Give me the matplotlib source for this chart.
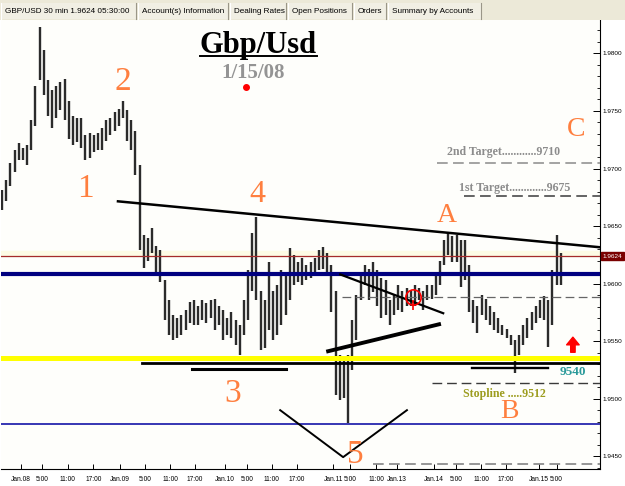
import matplotlib
matplotlib.use('Agg')
import matplotlib.pyplot as plt
from matplotlib.patches import Rectangle
from matplotlib.lines import Line2D
import matplotlib.transforms as mtransforms

# hourly bars, GBP/USD 7-15 Jan 2008
highs = [1.9681, 1.9690, 1.9705, 1.9716, 1.9722, 1.9718, 1.9720, 1.9742, 1.9772, 1.9823,
         1.9803, 1.9777, 1.9768, 1.9772, 1.9775, 1.9778, 1.9759, 1.9746, 1.9744, 1.9744,
         1.9729, 1.9731, 1.9729, 1.9731, 1.9735, 1.9742, 1.9744, 1.9749, 1.9752, 1.9759,
         1.9751, 1.9742, 1.9733, 1.9703, 1.9642, 1.9640, 1.9648, 1.9633, 1.9629, 1.9603,
         1.9586, 1.9573, 1.9570, 1.9573, 1.9577, 1.9584, 1.9586, 1.9581, 1.9586, 1.9583,
         1.9586, 1.9587, 1.9581, 1.9577, 1.9570, 1.9575, 1.9568, 1.9564, 1.9586, 1.9612,
         1.9644, 1.9658, 1.9594, 1.9586, 1.9619, 1.9594, 1.9599, 1.9612, 1.9607, 1.9631,
         1.9625, 1.9619, 1.9622, 1.9616, 1.9619, 1.9622, 1.9629, 1.9632, 1.9627, 1.9616,
         1.9594, 1.9538, 1.9534, 1.9538, 1.9568, 1.9590, 1.9610, 1.9616, 1.9613, 1.9619,
         1.9612, 1.9605, 1.9603, 1.9586, 1.9590, 1.9599, 1.9594, 1.9596, 1.9594, 1.9599,
         1.9596, 1.9594, 1.9599, 1.9599, 1.9607, 1.9620, 1.9638, 1.9644, 1.9641, 1.9642,
         1.9638, 1.9638, 1.9616, 1.9586, 1.9581, 1.9590, 1.9587, 1.9581, 1.9575, 1.9570,
         1.9564, 1.9561, 1.9555, 1.9551, 1.9555, 1.9564, 1.9570, 1.9575, 1.9581, 1.9586,
         1.9589, 1.9586, 1.9612, 1.9642, 1.9627]
lows = [1.9664, 1.9672, 1.9685, 1.9697, 1.9707, 1.9707, 1.9703, 1.9716, 1.9737, 1.9777,
        1.9764, 1.9746, 1.9735, 1.9744, 1.9751, 1.9742, 1.9726, 1.9720, 1.9723, 1.9718,
        1.9707, 1.9709, 1.9714, 1.9716, 1.9716, 1.9724, 1.9729, 1.9733, 1.9737, 1.9744,
        1.9724, 1.9716, 1.9694, 1.9629, 1.9614, 1.9620, 1.9627, 1.9607, 1.9601, 1.9568,
        1.9555, 1.9551, 1.9553, 1.9555, 1.9560, 1.9566, 1.9564, 1.9564, 1.9568, 1.9566,
        1.9570, 1.9560, 1.9564, 1.9551, 1.9555, 1.9553, 1.9547, 1.9538, 1.9555, 1.9568,
        1.9594, 1.9586, 1.9542, 1.9544, 1.9560, 1.9551, 1.9555, 1.9564, 1.9573, 1.9586,
        1.9599, 1.9601, 1.9599, 1.9603, 1.9605, 1.9607, 1.9612, 1.9613, 1.9607, 1.9575,
        1.9503, 1.9499, 1.9501, 1.9479, 1.9525, 1.9551, 1.9586, 1.9599, 1.9586, 1.9593,
        1.9581, 1.9570, 1.9573, 1.9564, 1.9573, 1.9577, 1.9575, 1.9581, 1.9581, 1.9581,
        1.9586, 1.9577, 1.9586, 1.9587, 1.9590, 1.9599, 1.9616, 1.9625, 1.9619, 1.9619,
        1.9597, 1.9603, 1.9575, 1.9566, 1.9557, 1.9573, 1.9568, 1.9564, 1.9560, 1.9557,
        1.9555, 1.9553, 1.9547, 1.9522, 1.9538, 1.9547, 1.9553, 1.9560, 1.9566, 1.9570,
        1.9568, 1.9545, 1.9564, 1.9599, 1.9599]
bars = list(range(len(highs)))

tick_pos = [4.5, 9.5, 15.8, 21.9, 28.3, 34.3, 40.3, 46.3, 53.5, 58.7, 64.7, 70.7,
            79.4, 83.4, 89.7, 94.7, 103.6, 108.9, 114.9, 120.9, 128.8, 133.0]
tick_labels = ['Jan.08', '5:00', '11:00', '17:00', 'Jan.09', '5:00', '11:00', '17:00',
               'Jan.10', '5:00', '11:00', '17:00', 'Jan.11', '5:00', '11:00', 'Jan.13',
               'Jan.14', '5:00', '11:00', '17:00', 'Jan.15', '5:00']

last_price = 1.9624
blue_level = 1.9608
yellow_level = 1.9535
support_level = 1.9531
low_blue_level = 1.9478

# drawn trend lines (bar index, price)
resist_x, resist_y = [27.8, 143.4], [1.96715, 1.96316]
tri_down_x, tri_down_y = [81.1, 105.8], [1.9608, 1.95743]
tri_up_x, tri_up_y = [78.2, 104.8], [1.95413, 1.95647]
v_x, v_y = [66.7, 81.8, 97.1], [1.94901, 1.94493, 1.94901]
base3_x, base3_y = [45.6, 68.1], [1.9526, 1.9526]
baseB_x, baseB_y = [112.7, 130.9], [1.9527, 1.9527]

target2, target1, mid_dash, stopline, bottom_dash = 1.9705, 1.9676, 1.9588, 1.95135, 1.9443

fig = plt.figure(figsize=(6.25, 4.86), dpi=100)
fig.patch.set_facecolor('white')
ax = fig.add_axes([1 / 625, 17 / 486, 599 / 625, 449 / 486])
ax.set_facecolor('#FEFEFB')
ax.set_xlim(-0.25, 143.4)
ax.set_ylim(1.9439, 1.9829)

# horizontal levels
ax.axhspan(last_price, 1.9628, color='#FDFBE4', zorder=0)
ax.axhline(last_price, color='#A52A2A', lw=0.9, zorder=3)
ax.axhline(blue_level, color='#000080', lw=3.0, zorder=3)
ax.axhline(yellow_level, color='#FFFF00', lw=3.6, zorder=3)
ax.axhline(support_level, xmin=(33.6 + 0.25) / 143.65, color='black', lw=2.0, zorder=3)
ax.axhline(low_blue_level, color='#0000A0', lw=1.1, zorder=3)

# price bars
ax.vlines(bars, lows, highs, color='#2b2b2b', lw=1.7, zorder=2)

dash = (0, (7, 3.5))
ax.plot([104.3, 143.4], [target2] * 2, color='#8a8a8a', lw=1.1, ls=dash, zorder=3)
ax.plot([110.8, 143.4], [target1] * 2, color='#3a3a3a', lw=1.1, ls=dash, zorder=3)
ax.plot([81.5, 143.4], [mid_dash] * 2, color='#666666', lw=0.9, ls=dash, zorder=3)
ax.plot([103.1, 143.4], [stopline] * 2, color='#3a3a3a', lw=1.0, ls=dash, zorder=3)
ax.plot([89.0, 143.4], [bottom_dash] * 2, color='#7a7a7a', lw=1.1, ls=dash, zorder=3)

# trend lines
ax.plot(resist_x, resist_y, color='black', lw=1.8, zorder=4)
ax.plot(tri_down_x, tri_down_y, color='black', lw=1.6, zorder=4)
ax.plot(tri_up_x, tri_up_y, color='black', lw=2.8, zorder=4)
ax.plot(v_x, v_y, color='black', lw=1.4, zorder=4)
ax.plot(base3_x, base3_y, color='black', lw=2.2, zorder=4)
ax.plot(baseB_x, baseB_y, color='black', lw=1.7, zorder=4)

# red marks
ax.plot([98.6], [mid_dash], 'o', mfc='none', mec='red', ms=11, mew=1.2, zorder=5)
ax.vlines([98.6], 1.9577, 1.9586, color='red', lw=1.2, zorder=5)
ax.plot([58.5], [1.97705], 'o', color='red', ms=4, zorder=5)
ax.annotate('', xy=(136.9, 1.95535), xytext=(136.9, 1.95404),
            arrowprops=dict(arrowstyle='simple,head_width=0.9,head_length=0.55,tail_width=0.32',
                            color='red', shrinkA=0, shrinkB=0, mutation_scale=10), zorder=5)

# titles
serif = 'Liberation Serif'
title = ax.text(61.4, 1.9800, 'Gbp/Usd', family=serif, weight='bold', fontsize=22,
                ha='center', va='baseline', color='black', zorder=6)
ax.text(60.2, 1.97783, '1/15/08', family=serif, weight='bold', fontsize=15,
        ha='center', va='baseline', color='#949494', zorder=6)

orange = '#FF7F3F'
for lab, x, y, fs in [('1', 19.9, 1.9675, 24), ('2', 29.0, 1.97679, 24), ('3', 55.2, 1.9497, 24),
                      ('4', 61.2, 1.96707, 23), ('5', 84.7, 1.94441, 24), ('A', 106.7, 1.96533, 20),
                      ('B', 121.8, 1.94832, 20), ('C', 137.6, 1.9728, 20)]:
    ax.text(x, y, lab, family=serif, fontsize=fs, color=orange, ha='center', va='baseline', zorder=6)

ax.text(106.7, 1.97115, '2nd Target............9710', family=serif, weight='bold', fontsize=8.6,
        color='#8c8c8c', ha='left', va='baseline', zorder=6)
ax.text(109.6, 1.96802, '1st Target.............9675', family=serif, weight='bold', fontsize=8.6,
        color='#8c8c8c', ha='left', va='baseline', zorder=6)
ax.text(136.9, 1.95205, '9540', family=serif, weight='bold', fontsize=9.5,
        color='#2A9A9A', ha='center', va='baseline', zorder=6)
ax.text(110.6, 1.95014, 'Stopline .....9512', family=serif, weight='bold', fontsize=8.6,
        color='#9C9C1E', ha='left', va='baseline', zorder=6)

# axes styling
for s in ['left', 'top']:
    ax.spines[s].set_visible(False)
ax.spines['right'].set_linewidth(0.8)
ax.spines['bottom'].set_linewidth(0.8)
ax.yaxis.tick_right()
ax.set_yticks([1.9450, 1.9500, 1.9550, 1.9600, 1.9650, 1.9700, 1.9750, 1.9800])
ax.set_yticks([1.944 + 0.001 * i for i in range(39)], minor=True)
ax.set_yticklabels(['%.4f' % v for v in ax.get_yticks()], family='Liberation Sans', fontsize=4.6)
ax.tick_params(axis='y', which='major', direction='in', length=5, width=0.7, pad=2)
ax.tick_params(axis='y', which='minor', direction='in', length=2.5, width=0.6)
ax.set_xticks(tick_pos)
ax.set_xticklabels(tick_labels, family='Liberation Sans', fontsize=4.8)
ax.tick_params(axis='x', direction='in', length=3.5, width=0.7, pad=5)

trans = mtransforms.blended_transform_factory(ax.transAxes, ax.transData)
ax.text(1.004, last_price, '1.9624', transform=trans, fontsize=4.6, family='Liberation Sans',
        color='white', va='center', ha='left',
        bbox=dict(boxstyle='square,pad=0.25', facecolor='#7A0000', edgecolor='#7A0000'))

# underline under the title
fig.canvas.draw()
bb = title.get_window_extent()
inv = ax.transData.inverted()
(ux0, _), (ux1, _) = inv.transform([(bb.x0, 0), (bb.x1, 0)])
ax.plot([ux0, ux1], [1.9800 - 0.00022] * 2, color='black', lw=1.4, zorder=6)

# tab strip at the top
fig.add_artist(Rectangle((0, 1 - 20 / 486), 1, 20 / 486, transform=fig.transFigure,
                         facecolor='#ECE9D8', edgecolor='none'))
tabs = ['GBP/USD 30 min 1.9624 05:30:00', 'Account(s) Information', 'Dealing Rates',
        'Open Positions', 'Orders', 'Summary by Accounts']
edges = [(1, 136), (138, 228), (230, 286), (288, 352), (354, 386), (388, 481)]
for name, (a, b) in zip(tabs, edges):
    fig.add_artist(Rectangle((a / 625, 1 - 19 / 486), (b - a) / 625, 16 / 486,
                             transform=fig.transFigure, facecolor='#F1EFE4',
                             edgecolor='none'))
    fig.add_artist(Line2D([b / 625, b / 625], [1 - 19 / 486, 1 - 3 / 486],
                          transform=fig.transFigure, color='#9A9688', lw=0.8))
    fig.add_artist(Line2D([a / 625, a / 625], [1 - 19 / 486, 1 - 3 / 486],
                          transform=fig.transFigure, color='white', lw=0.8))
    fig.text((a + 4) / 625, 1 - 11.5 / 486, name, family='Liberation Sans', fontsize=5.9,
             va='center', ha='left', color='black')

fig.savefig('out.png', dpi=100, facecolor=fig.get_facecolor())
